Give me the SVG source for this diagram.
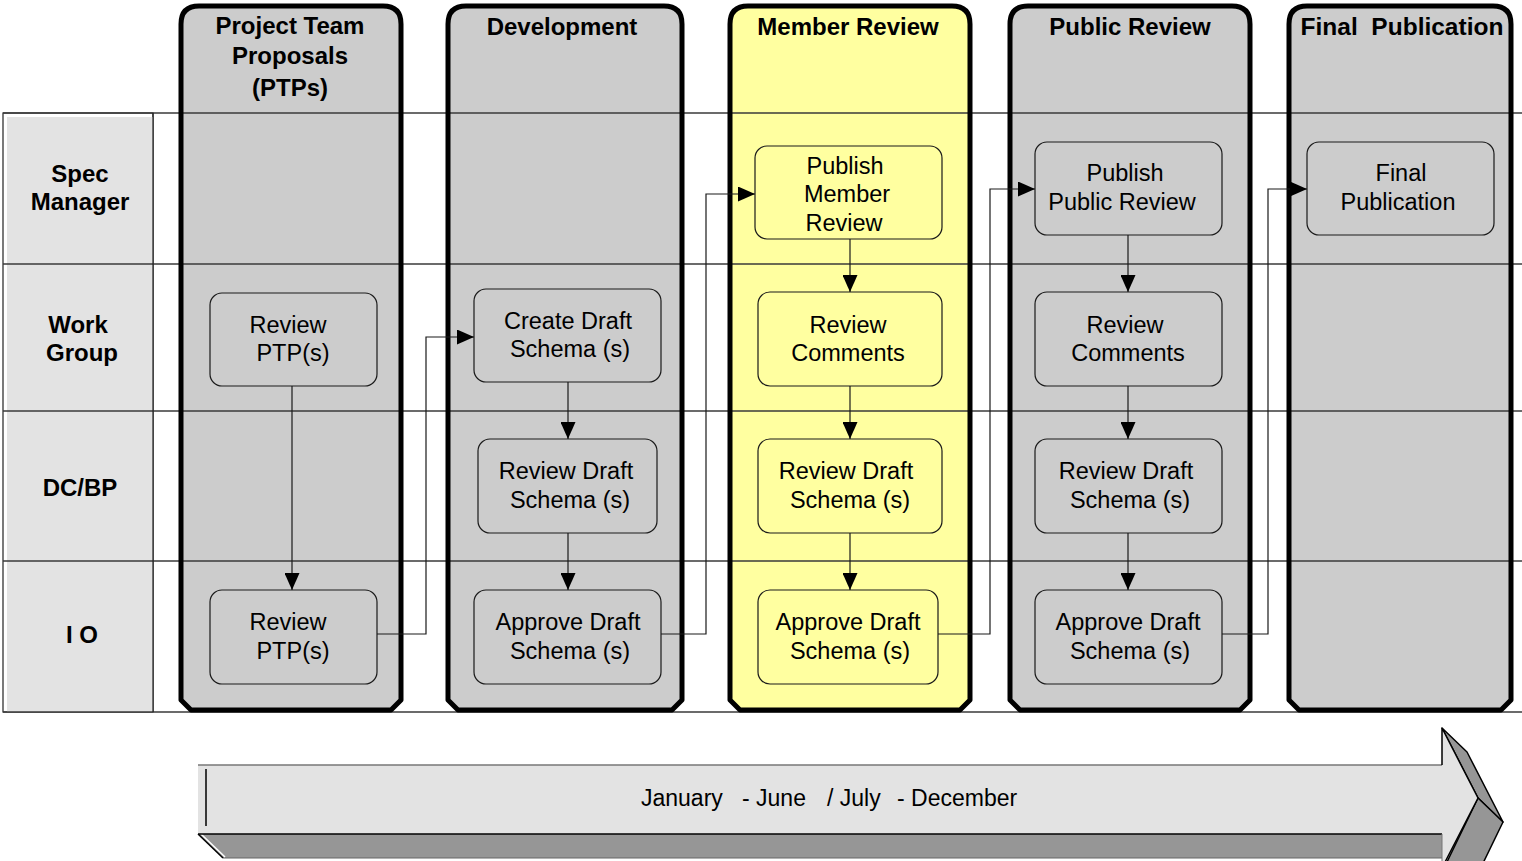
<svg xmlns="http://www.w3.org/2000/svg" width="1522" height="861" viewBox="0 0 1522 861">
<defs>
<style>
.colfill{stroke:none}
.colb{fill:none;stroke:#000;stroke-width:5;stroke-linejoin:round}
.lane{stroke:#3a3a3a;stroke-width:1.5}
.node{stroke:#1a1a1a;stroke-width:1.2}
.g{fill:#cccccc}
.y{fill:#ffffa0}
.t{font-family:"Liberation Sans",Arial,sans-serif;font-size:23.5px;fill:#000;text-anchor:middle}
.h{font-family:"Liberation Sans",Arial,sans-serif;font-size:24px;font-weight:bold;fill:#000;text-anchor:middle}
.l{font-family:"Liberation Sans",Arial,sans-serif;font-size:24px;font-weight:bold;fill:#000;text-anchor:middle}
.c{fill:none;stroke:#1a1a1a;stroke-width:1.2}
</style>
<marker id="ah" markerWidth="17" markerHeight="15" refX="17" refY="7.5" orient="auto" markerUnits="userSpaceOnUse">
<path d="M0,0 L17,7.5 L0,15 Z" fill="#000"/>
</marker>
</defs>
<rect width="1522" height="861" fill="#fff"/>

<!-- column fills -->
<g id="column-fills">
<path class="g" d="M181,700 V24 Q181,6 199,6 H383 Q401,6 401,24 V700 L391,710 H191 Z"/>
<path class="g" d="M448,700 V24 Q448,6 466,6 H664 Q682,6 682,24 V700 L672,710 H458 Z"/>
<path class="y" d="M730,700 V24 Q730,6 748,6 H952 Q970,6 970,24 V700 L960,710 H740 Z"/>
<path class="g" d="M1010,700 V24 Q1010,6 1028,6 H1232 Q1250,6 1250,24 V700 L1240,710 H1020 Z"/>
<path class="g" d="M1289,700 V24 Q1289,6 1307,6 H1493 Q1511,6 1511,24 V700 L1501,710 H1299 Z"/>
</g>

<!-- lane labels -->
<g id="lanes">
<rect x="3" y="113" width="150" height="599" fill="#fff" stroke="#222" stroke-width="1.2"/>
<rect x="7" y="117" width="146" height="595" fill="#e3e3e3"/>
<line class="lane" x1="3" y1="113" x2="1522" y2="113"/>
<line class="lane" x1="3" y1="264" x2="1522" y2="264"/>
<line class="lane" x1="3" y1="411" x2="1522" y2="411"/>
<line class="lane" x1="3" y1="561" x2="1522" y2="561"/>
<line class="lane" x1="3" y1="712" x2="1522" y2="712"/>
<line x1="153" y1="113" x2="153" y2="712" stroke="#222" stroke-width="1.2"/>
<text class="l" x="80" y="182">Spec</text>
<text class="l" x="80" y="210">Manager</text>
<text class="l" x="78" y="333">Work</text>
<text class="l" x="82" y="361">Group</text>
<text class="l" x="80" y="496">DC/BP</text>
<text class="l" x="82" y="643">I O</text>
</g>

<!-- column borders and headers -->
<g id="col-ptp">
<path class="colb" d="M181,700 V24 Q181,6 199,6 H383 Q401,6 401,24 V700 L391,710 H191 Z"/>
<text class="h" x="290" y="34">Project Team</text>
<text class="h" x="290" y="64">Proposals</text>
<text class="h" x="290" y="96">(PTPs)</text>
</g>
<g id="col-development">
<path class="colb" d="M448,700 V24 Q448,6 466,6 H664 Q682,6 682,24 V700 L672,710 H458 Z"/>
<text class="h" x="562" y="35">Development</text>
</g>
<g id="col-member-review">
<path class="colb" d="M730,700 V24 Q730,6 748,6 H952 Q970,6 970,24 V700 L960,710 H740 Z"/>
<text class="h" x="848" y="35">Member Review</text>
</g>
<g id="col-public-review">
<path class="colb" d="M1010,700 V24 Q1010,6 1028,6 H1232 Q1250,6 1250,24 V700 L1240,710 H1020 Z"/>
<text class="h" x="1130" y="35">Public Review</text>
</g>
<g id="col-final-publication">
<path class="colb" d="M1289,700 V24 Q1289,6 1307,6 H1493 Q1511,6 1511,24 V700 L1501,710 H1299 Z"/>
<text class="h" x="1402" y="35" style="font-size:24.5px" xml:space="preserve">Final  Publication</text>
</g>

<!-- connectors -->
<g id="connectors">
<line class="c" x1="292" y1="386" x2="292" y2="590" marker-end="url(#ah)"/>
<polyline class="c" points="377,634 426,634 426,337 474,337" marker-end="url(#ah)"/>
<line class="c" x1="568" y1="382" x2="568" y2="439" marker-end="url(#ah)"/>
<line class="c" x1="568" y1="533" x2="568" y2="590" marker-end="url(#ah)"/>
<polyline class="c" points="661,634 706,634 706,194 755,194" marker-end="url(#ah)"/>
<line class="c" x1="850" y1="239" x2="850" y2="292" marker-end="url(#ah)"/>
<line class="c" x1="850" y1="386" x2="850" y2="439" marker-end="url(#ah)"/>
<line class="c" x1="850" y1="533" x2="850" y2="590" marker-end="url(#ah)"/>
<polyline class="c" points="938,634 990,634 990,189 1035,189" marker-end="url(#ah)"/>
<line class="c" x1="1128" y1="235" x2="1128" y2="292" marker-end="url(#ah)"/>
<line class="c" x1="1128" y1="386" x2="1128" y2="439" marker-end="url(#ah)"/>
<line class="c" x1="1128" y1="533" x2="1128" y2="590" marker-end="url(#ah)"/>
<polyline class="c" points="1222,634 1268,634 1268,189 1307,189" marker-end="url(#ah)"/>
</g>

<!-- nodes -->
<g id="n-review-ptp-wg"><rect class="node g" x="210" y="293" width="167" height="93" rx="12"/><text class="t" x="288" y="333">Review</text><text class="t" x="293" y="361">PTP(s)</text></g>
<g id="n-review-ptp-io"><rect class="node g" x="210" y="590" width="167" height="94" rx="12"/><text class="t" x="288" y="630">Review</text><text class="t" x="293" y="659">PTP(s)</text></g>
<g id="n-create-draft"><rect class="node g" x="474" y="289" width="187" height="93" rx="12"/><text class="t" x="568" y="329">Create Draft</text><text class="t" x="570" y="357">Schema (s)</text></g>
<g id="n-dev-review-draft"><rect class="node g" x="478" y="439" width="179" height="94" rx="12"/><text class="t" x="566" y="479">Review Draft</text><text class="t" x="570" y="508">Schema (s)</text></g>
<g id="n-dev-approve-draft"><rect class="node g" x="474" y="590" width="187" height="94" rx="12"/><text class="t" x="568" y="630">Approve Draft</text><text class="t" x="570" y="659">Schema (s)</text></g>
<g id="n-publish-member"><rect class="node y" x="755" y="146" width="187" height="93" rx="12"/><text class="t" x="845" y="174">Publish</text><text class="t" x="847" y="202">Member</text><text class="t" x="844" y="231">Review</text></g>
<g id="n-mr-review-comments"><rect class="node y" x="758" y="292" width="184" height="94" rx="12"/><text class="t" x="848" y="333">Review</text><text class="t" x="848" y="361">Comments</text></g>
<g id="n-mr-review-draft"><rect class="node y" x="758" y="439" width="184" height="94" rx="12"/><text class="t" x="846" y="479">Review Draft</text><text class="t" x="850" y="508">Schema (s)</text></g>
<g id="n-mr-approve-draft"><rect class="node y" x="758" y="590" width="180" height="94" rx="12"/><text class="t" x="848" y="630">Approve Draft</text><text class="t" x="850" y="659">Schema (s)</text></g>
<g id="n-publish-public"><rect class="node g" x="1035" y="142" width="187" height="93" rx="12"/><text class="t" x="1125" y="181">Publish</text><text class="t" x="1122" y="210">Public Review</text></g>
<g id="n-pr-review-comments"><rect class="node g" x="1035" y="292" width="187" height="94" rx="12"/><text class="t" x="1125" y="333">Review</text><text class="t" x="1128" y="361">Comments</text></g>
<g id="n-pr-review-draft"><rect class="node g" x="1035" y="439" width="187" height="94" rx="12"/><text class="t" x="1126" y="479">Review Draft</text><text class="t" x="1130" y="508">Schema (s)</text></g>
<g id="n-pr-approve-draft"><rect class="node g" x="1035" y="590" width="187" height="94" rx="12"/><text class="t" x="1128" y="630">Approve Draft</text><text class="t" x="1130" y="659">Schema (s)</text></g>
<g id="n-final-publication"><rect class="node g" x="1307" y="142" width="187" height="93" rx="12"/><text class="t" x="1401" y="181">Final</text><text class="t" x="1398" y="210">Publication</text></g>

<!-- timeline arrow -->
<g id="timeline">
<polygon points="198,834 1442,834 1442,858 223,858" fill="#969696"/>
<line x1="223" y1="858" x2="1442" y2="858" stroke="#666" stroke-width="1.2"/>
<line x1="198" y1="834" x2="223" y2="858" stroke="#000" stroke-width="1.5"/>
<line x1="201" y1="834" x2="225" y2="857" stroke="#fff" stroke-width="1.5"/>
<polygon points="1442,728 1467,752 1503,822 1478,798" fill="#969696" stroke="#000" stroke-width="1.5" stroke-linejoin="round"/>
<polygon points="1478,798 1503,822 1470,890 1445,866" fill="#969696" stroke="#000" stroke-width="1.5" stroke-linejoin="round"/>
<path d="M198,765 H1442 V728 L1478,798 L1442,868 V834 H198 Z" fill="#e3e3e3"/>
<line x1="198" y1="765" x2="1442" y2="765" stroke="#777" stroke-width="1.5"/>
<line x1="198" y1="834" x2="1442" y2="834" stroke="#000" stroke-width="1.5"/>
<path d="M1442,765 V728 L1478,798 L1442,868" fill="none" stroke="#000" stroke-width="1.5"/>
<line x1="1442" y1="834" x2="1442" y2="861" stroke="#777" stroke-width="1"/>
<line x1="206" y1="769" x2="206" y2="826" stroke="#000" stroke-width="1.5"/>
<text class="t" style="text-anchor:start;font-size:23px" y="806"><tspan x="641">January</tspan><tspan x="742">- June</tspan><tspan x="827">/ July</tspan><tspan x="897">- December</tspan></text>
</g>
</svg>
